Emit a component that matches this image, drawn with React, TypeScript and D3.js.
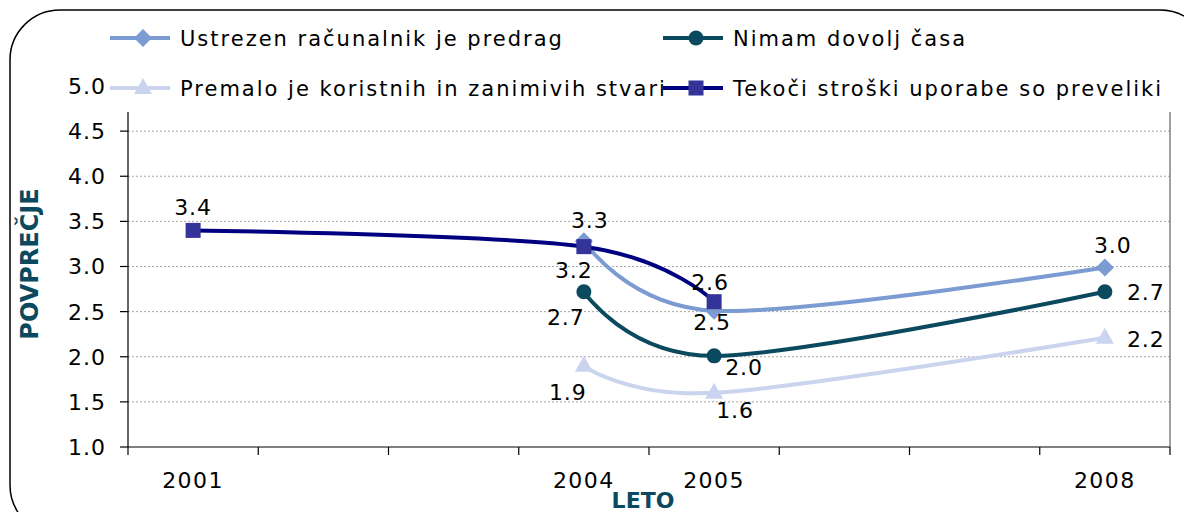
import React from "react";
import * as d3 from "d3";

const years = ["2001", "2002", "2003", "2004", "2005", "2006", "2007", "2008"];
const yTicks = [1.0, 1.5, 2.0, 2.5, 3.0, 3.5, 4.0, 4.5, 5.0];

const ustrezen = [null, null, null, 3.28, 2.51, null, null, 2.99];
const nimam = [null, null, null, 2.72, 2.01, null, null, 2.72];
const premalo = [null, null, null, 1.9, 1.6, null, null, 2.21];
const tekoci = [3.4, null, null, 3.22, 2.61, null, null, null];

const seriesNames = [
  "Ustrezen računalnik je predrag",
  "Nimam dovolj časa",
  "Premalo je koristnih in zanimivih stvari",
  "Tekoči stroški uporabe so preveliki",
];

type Series = {
  name: string;
  values: (number | null)[];
  line: string;
  fill: string;
  marker: "diamond" | "circle" | "triangle" | "square";
  labelOff: Record<number, [number, number, string]>;
};

// label placement offsets (dx, dy, anchor) relative to each point
const series: Series[] = [
  { name: seriesNames[0], values: ustrezen, line: "#7B9BD2", fill: "#7B9BD2", marker: "diamond",
    labelOff: { 3: [6, -13, "middle"], 4: [-2, 19, "middle"], 7: [8, -14, "middle"] } },
  { name: seriesNames[1], values: nimam, line: "#0B4A5E", fill: "#0B4A5E", marker: "circle",
    labelOff: { 3: [-18, 33, "middle"], 4: [30, 19, "middle"], 7: [22, 8, "start"] } },
  { name: seriesNames[2], values: premalo, line: "#CAD4EE", fill: "#CAD4EE", marker: "triangle",
    labelOff: { 3: [-16, 34, "middle"], 4: [21, 25, "middle"], 7: [22, 9, "start"] } },
  { name: seriesNames[3], values: tekoci, line: "#000080", fill: "#333399", marker: "square",
    labelOff: { 0: [0, -15, "middle"], 3: [-10, 31, "middle"], 4: [-4, -12, "middle"] } },
];

const W = 1184;
const H = 512;
const plot = { left: 128, right: 1170, top: 86, bottom: 447 };
const FONT = "'DejaVu Sans', Verdana, sans-serif";

function Marker({ type, x, y, fill }: { type: string; x: number; y: number; fill: string }) {
  if (type === "diamond") {
    const s = 9;
    return <path d={`M${x},${y - s}L${x + s},${y}L${x},${y + s}L${x - s},${y}Z`} fill={fill} />;
  }
  if (type === "circle") return <circle cx={x} cy={y} r={7.5} fill={fill} />;
  if (type === "triangle") {
    return <path d={`M${x},${y - 10}L${x + 9},${y + 6}L${x - 9},${y + 6}Z`} fill={fill} />;
  }
  return <rect x={x - 7.5} y={y - 7.5} width={15} height={15} fill={fill} />;
}

export default function App() {
  const x = d3.scaleBand<string>().domain(years).range([plot.left, plot.right]).padding(0);
  const y = d3.scaleLinear().domain([1, 5]).range([plot.bottom, plot.top]);
  const cx = (yr: string) => (x(yr) as number) + x.bandwidth() / 2;
  const line = d3
    .line<[number, number]>()
    .x((d) => d[0])
    .y((d) => d[1])
    .curve(d3.curveCardinal.tension(0));

  const boundaries = years.map((yr) => x(yr) as number).concat([plot.right]);
  const labelYears = ["2001", "2004", "2005", "2008"];

  const legendItems = [
    { s: series[0], lx: 110, ly: 38 },
    { s: series[1], lx: 663, ly: 38 },
    { s: series[2], lx: 110, ly: 88 },
    { s: series[3], lx: 663, ly: 88 },
  ];

  return (
    <div style={{ position: "fixed", left: 0, top: 0 }}>
      <svg width={W} height={H} style={{ display: "block", fontFamily: FONT }}>
        <rect x={0} y={0} width={W} height={H} fill="#ffffff" />
        <rect x={10} y={10} width={1200} height={525} rx={50} ry={50} fill="none" stroke="#000" strokeWidth={1.5} />

        {/* gridlines */}
        {yTicks.filter((t) => t > 1 && t < 5).map((t) => (
          <line key={t} x1={plot.left} x2={plot.right} y1={y(t)} y2={y(t)} stroke="#a6a6a6" strokeWidth={1} strokeDasharray="2,2" />
        ))}
        {/* right border */}
        <line x1={plot.right} x2={plot.right} y1={plot.top} y2={plot.bottom} stroke="#808080" strokeWidth={1.5} />
        {/* axes */}
        <line x1={plot.left} x2={plot.left} y1={plot.top} y2={plot.bottom} stroke="#000" strokeWidth={1.2} />
        <line x1={plot.left} x2={plot.right} y1={plot.bottom} y2={plot.bottom} stroke="#000" strokeWidth={1.2} />
        {yTicks.map((t) => (
          <g key={t}>
            <line x1={plot.left - 8} x2={plot.left} y1={y(t)} y2={y(t)} stroke="#000" strokeWidth={1.2} />
            <text x={106} y={y(t)} dy="0.36em" textAnchor="end" fontSize={22} letterSpacing={1} fill="#000">
              {t.toFixed(1)}
            </text>
          </g>
        ))}
        {boundaries.map((b, i) => (
          <line key={i} x1={b} x2={b} y1={plot.bottom} y2={plot.bottom + 8} stroke="#000" strokeWidth={1.2} />
        ))}
        {years.map((yr) =>
          labelYears.includes(yr) ? (
            <text key={yr} x={cx(yr)} y={488} textAnchor="middle" fontSize={22} letterSpacing={1.5} fill="#000">
              {yr}
            </text>
          ) : null
        )}

        {/* series lines */}
        {series.map((s) => {
          const pts: [number, number][] = [];
          s.values.forEach((v, i) => {
            if (v != null) pts.push([cx(years[i]), y(v)]);
          });
          return (
            <path key={s.name} d={line(pts) || ""} fill="none" stroke={s.line} strokeWidth={4} strokeLinejoin="round" />
          );
        })}
        {series.map((s) =>
          s.values.map((v, i) =>
            v != null ? <Marker key={s.name + i} type={s.marker} x={cx(years[i])} y={y(v)} fill={s.fill} /> : null
          )
        )}
        {series.map((s) =>
          s.values.map((v, i) => {
            if (v == null) return null;
            const [dx, dy, anchor] = s.labelOff[i] || [0, -14, "middle"];
            return (
              <text key={"l" + s.name + i} x={cx(years[i]) + dx} y={y(v) + dy} textAnchor={anchor} fontSize={22} letterSpacing={1} fill="#000">
                {v.toFixed(1)}
              </text>
            );
          })
        )}

        {/* legend */}
        <rect x={108} y={14} width={1066} height={98} fill="#ffffff" />
        {legendItems.map(({ s, lx, ly }) => (
          <g key={s.name}>
            <line x1={lx} x2={lx + 60} y1={ly} y2={ly} stroke={s.line} strokeWidth={4} />
            <Marker type={s.marker} x={lx + 33} y={ly} fill={s.fill} />
            <text x={lx + 70} y={ly} dy="0.36em" fontSize={21} letterSpacing={2} fill="#000">
              {s.name}
            </text>
          </g>
        ))}

        {/* axis titles */}
        <text transform={`translate(38,264) rotate(-90)`} textAnchor="middle" fontSize={24} fontWeight="bold" fill="#0B4A5E">
          POVPREČJE
        </text>
        <text x={643} y={508} textAnchor="middle" fontSize={22} fontWeight="bold" fill="#0B4A5E">
          LETO
        </text>
      </svg>
    </div>
  );
}
